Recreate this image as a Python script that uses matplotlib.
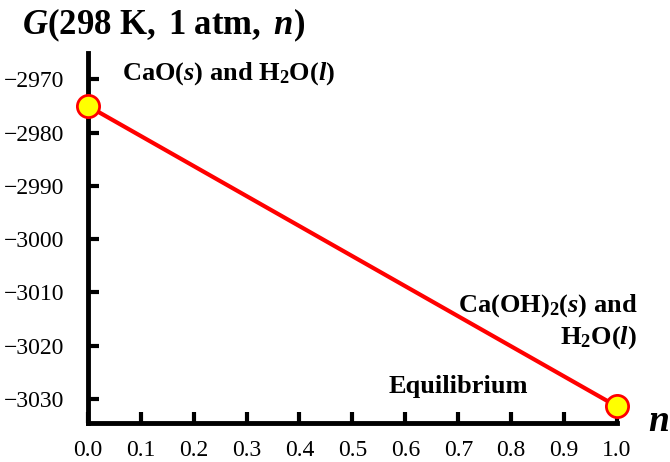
import matplotlib
matplotlib.use('Agg')
import matplotlib.pyplot as plt
import numpy as np

# data
n_vals = [0.0, 1.0]
g_vals = [-2975.0, -3031.4]
x_ticks = [0.0, 0.1, 0.2, 0.3, 0.4, 0.5, 0.6, 0.7, 0.8, 0.9, 1.0]
y_ticks = [-2970, -2980, -2990, -3000, -3010, -3020, -3030]

plt.rcParams['font.family'] = ['Liberation Serif', 'DejaVu Serif']
plt.rcParams['mathtext.fontset'] = 'custom'
plt.rcParams['mathtext.rm'] = 'Liberation Serif'
plt.rcParams['mathtext.it'] = 'Liberation Serif:italic'
plt.rcParams['mathtext.bf'] = 'Liberation Serif:bold'
plt.rcParams['mathtext.bfit'] = 'Liberation Serif:bold:italic'

fig = plt.figure(figsize=(6.7, 4.62), dpi=100)
ax = fig.add_axes([0.131, 0.0844, 0.79, 0.8006])

ax.plot(n_vals, g_vals, color='#ff0000', linewidth=3, zorder=2)
ax.plot(n_vals, g_vals, linestyle='none', marker='o', markersize=16,
		markerfacecolor='#ffff00', markeredgecolor='#ff0000',
		markeredgewidth=2, clip_on=False, zorder=3)

ax.set_xlim(0, 1.0)
ax.set_ylim(-3034.5, -2965.1)
ax.set_xticks(x_ticks)
ax.set_xticklabels(['%.1f' % v for v in x_ticks])
ax.set_yticks(y_ticks)
ax.set_yticklabels(['\u2212%d' % abs(v) for v in y_ticks])
ax.tick_params(direction='in', length=8, width=3, labelsize=17)
ax.tick_params(axis='y', pad=17)
ax.tick_params(axis='x', pad=12)

for s in ['top', 'right']:
	ax.spines[s].set_visible(False)
for s in ['left', 'bottom']:
	ax.spines[s].set_linewidth(3.5)

# labels
fig.text(0.033, 0.946,
		 r'$\mathbfit{G}\mathbf{(298\ K,\ 1\ atm,\ }\mathbfit{n}\mathbf{)}$',
		 fontsize=25, ha='left', va='center')
fig.text(0.983, 0.088, r'$\mathbfit{n}$', fontsize=27, ha='center', va='center')

ax.text(0.064, -2969, r'CaO($\mathbfit{s}$) and H$_\mathbf{2}$O($\mathbfit{l}$)',
		fontsize=19, fontweight='bold', ha='left', va='center')
ax.text(1.038, -3012.4, r'Ca(OH)$_\mathbf{2}$($\mathbfit{s}$) and',
		fontsize=19, fontweight='bold', ha='right', va='center')
ax.text(1.038, -3018.4, r'H$_\mathbf{2}$O($\mathbfit{l}$)',
		fontsize=19, fontweight='bold', ha='right', va='center')
ax.text(0.70, -3027.7, 'Equilibrium', fontsize=19, fontweight='bold',
		ha='center', va='center')

fig.savefig('out.png', dpi=100)
